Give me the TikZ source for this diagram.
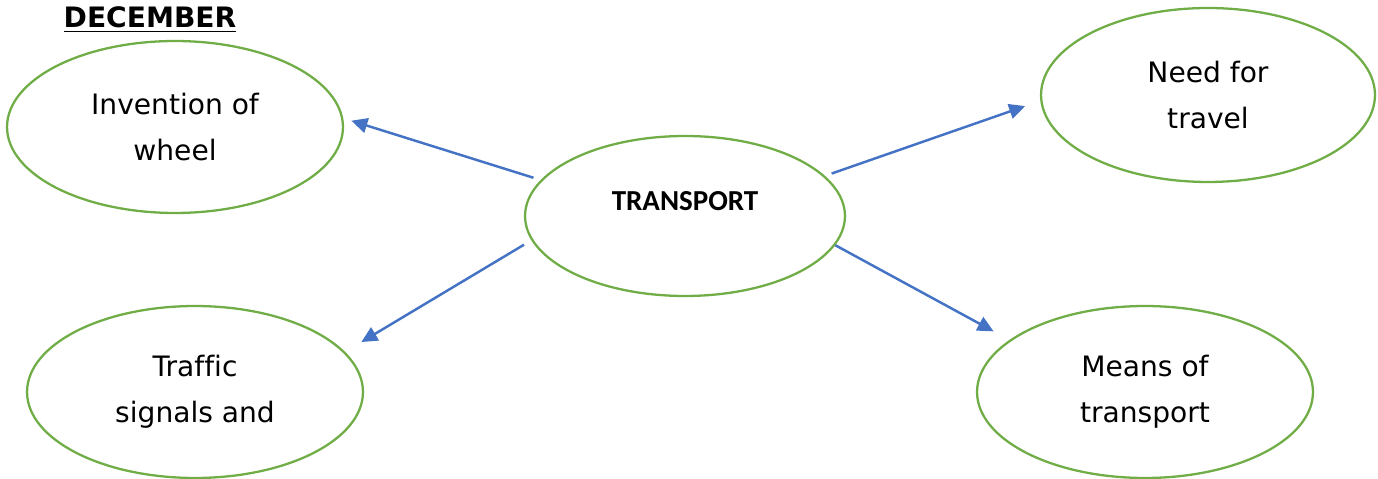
\documentclass[tikz,border=0pt]{standalone}
\usepackage{fontspec}
\setmainfont[Ligatures=NoCommon]{DejaVu Sans}
\newfontfamily\hubfont{Carlito}
\usepackage{tikz}
\usetikzlibrary{shapes.geometric,arrows.meta}
\definecolor{ideagreen}{RGB}{112,173,71}
\definecolor{linkblue}{RGB}{68,114,196}
\tikzset{
    idea/.style={ellipse, draw=ideagreen, line width=1.3pt, minimum width=6.72cm, minimum height=3.44cm, align=center, font=\fontsize{16}{26}\selectfont},
    hub/.style={ellipse, draw=ideagreen, line width=1.3pt, minimum width=6.4cm, minimum height=3.2cm, font=\hubfont\bfseries\fontsize{16.5}{19}\selectfont, text depth=0.6cm},
    link/.style={draw=linkblue, line width=1.4pt, -{Triangle[length=0.32cm,width=0.3cm]}},
}
\begin{document}
\begin{tikzpicture}[x=0.02cm, y=-0.02cm]
\useasboundingbox (0,0) rectangle (1378,479);
\node[anchor=base, inner sep=0pt, font=\bfseries\fontsize{16}{18}\selectfont] (title) at (150,28) {\underline{DECEMBER}};
\node[hub] (transport) at (685,216) {TRANSPORT};
\node[idea] (wheel) at (175,127) {Invention of\\wheel};
\node[idea, minimum width=6.68cm, minimum height=3.48cm] (travel) at (1208,95) {Need for\\travel};
\node[idea] (signals) at (195,392) {Traffic\\signals and};
\node[idea] (means) at (1145,392) {Means of\\transport};
\draw[link, shorten <=0.15cm, shorten >=0.17cm] (transport.166.7) -- (wheel.3.25);
\draw[link, shorten <=0.14cm, shorten >=0.32cm] (transport.16.2) -- (travel.182.8);
\draw[link, shorten <=0.17cm, shorten >=0.38cm] (transport.189.6) -- (signals.15.5);
\draw[link, shorten >=0.36cm] (transport.-11.9) -- (means.159);
\end{tikzpicture}
\end{document}
